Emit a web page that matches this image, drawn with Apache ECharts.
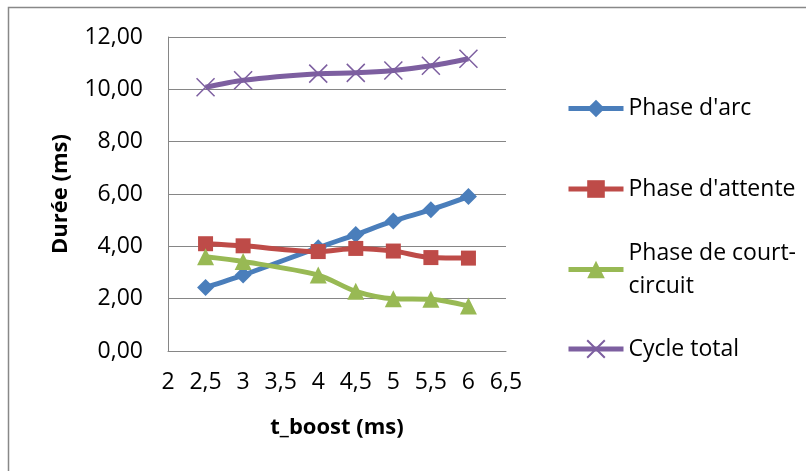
<!DOCTYPE html>
<html>
<head>
<meta charset="utf-8">
<script src="https://cdn.jsdelivr.net/npm/echarts@6/dist/echarts.min.js"></script>
<style>html,body{margin:0;padding:0;background:#fff}#c{width:806px;height:471px}</style>
</head>
<body>
<div id="c"></div>
<script>
const xValues = [2.5, 3, 4, 4.5, 5, 5.5, 6];
const phaseArc = [2.43, 2.9, 3.95, 4.45, 4.97, 5.4, 5.9];
const phaseAttente = [4.1, 4.02, 3.8, 3.92, 3.82, 3.57, 3.55];
const phaseCourtCircuit = [3.6, 3.42, 2.9, 2.28, 2.0, 1.98, 1.72];
const cycleTotal = [10.08, 10.35, 10.6, 10.63, 10.72, 10.9, 11.17];
const seriesNames = ["Phase d'arc", "Phase d'attente", "Phase de court-circuit", "Cycle total"];
const xTitle = 't_boost (ms)';
const yTitle = 'Durée (ms)';

const FONT = 'Open Sans';
const colors = ['#4A7EBB', '#BE4B48', '#98B954', '#7D5FA0'];
const pair = arr => xValues.map((x, i) => [x, arr[i]]);
const crossPath = 'path://M0,0L10,10M10,0L0,10';

function mkSeries(name, data, color, symbol, size, extra) {
  return Object.assign({
    name, type: 'line', data: pair(data), smooth: 0.3,
    symbol, symbolSize: size, showSymbol: true,
    lineStyle: { color, width: 5 },
    itemStyle: { color, borderColor: color, borderWidth: 0 },
    emphasis: { disabled: true }
  }, extra || {});
}

const legendBase = {
  orient: 'vertical', left: 561, itemWidth: 55, itemHeight: 22, itemGap: 0,
  selectedMode: false,
  lineStyle: { width: 5 },
  textStyle: { fontFamily: FONT, fontSize: 23, color: '#000', lineHeight: 33 }
};

const option = {
  backgroundColor: '#fff',
  animation: false,
  grid: { left: 168, right: 300, top: 37, bottom: 120 },
  xAxis: {
    type: 'value', min: 2, max: 6.5, interval: 0.5,
    name: xTitle, nameLocation: 'middle', nameGap: 66,
    nameTextStyle: { fontFamily: FONT, fontSize: 22, fontWeight: 'bold', color: '#000' },
    axisLine: { show: true, lineStyle: { color: '#868686', width: 1 } },
    axisTick: { show: false },
    splitLine: { show: false },
    axisLabel: { fontFamily: FONT, fontSize: 23, color: '#000', margin: 20,
      formatter: v => String(v).replace('.', ',') }
  },
  yAxis: {
    type: 'value', min: 0, max: 12, interval: 2,
    name: yTitle, nameLocation: 'middle', nameGap: 96, nameRotate: 90,
    nameTextStyle: { fontFamily: FONT, fontSize: 22, fontWeight: 'bold', color: '#000' },
    axisLine: { show: true, lineStyle: { color: '#868686', width: 1 } },
    axisTick: { show: false },
    splitLine: { show: true, lineStyle: { color: '#868686', width: 1 } },
    axisLabel: { fontFamily: FONT, fontSize: 23, color: '#000', margin: 25,
      formatter: v => v.toFixed(2).replace('.', ',') }
  },
  legend: [
    Object.assign({}, legendBase, { top: 103.5 - 16.5, data: [seriesNames[0]] }),
    Object.assign({}, legendBase, { top: 184 - 16.5, data: [seriesNames[1]] }),
    Object.assign({}, legendBase, { top: 264.5 - 49.5, data: [seriesNames[2]],
      formatter: () => 'Phase de court-\ncircuit',
      textStyle: Object.assign({}, legendBase.textStyle, { padding: [33, 0, 0, 0] }) }),
    Object.assign({}, legendBase, { top: 344 - 16.5, data: [seriesNames[3]] })
  ],
  graphic: [{
    type: 'rect', silent: true,
    shape: { x: 8.5, y: 7.5, width: 900, height: 600 },
    style: { fill: 'none', stroke: '#888', lineWidth: 1.5 }
  }],
  series: [
    mkSeries(seriesNames[0], phaseArc, colors[0], 'diamond', 17),
    mkSeries(seriesNames[1], phaseAttente, colors[1], 'rect', 15),
    mkSeries(seriesNames[2], phaseCourtCircuit, colors[2], 'triangle', 17),
    mkSeries(seriesNames[3], cycleTotal, colors[3], crossPath, 18, {
      itemStyle: { color: colors[3], borderColor: colors[3], borderWidth: 1.5 }
    })
  ]
};

const chart = echarts.init(document.getElementById('c'), null, { renderer: 'canvas' });
chart.setOption(option);
</script>
</body>
</html>
